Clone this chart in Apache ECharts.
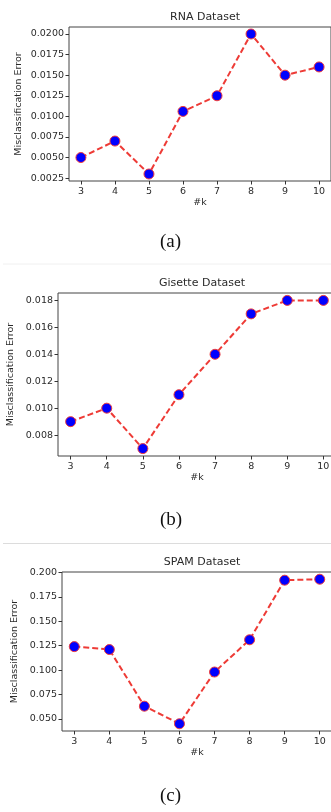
<!DOCTYPE html>
<html>
<head>
<meta charset="utf-8">
<script src="https://cdn.jsdelivr.net/npm/echarts@6/dist/echarts.min.js"></script>
<style>
  html, body { margin: 0; padding: 0; background: #fff; }
  #chart { width: 331px; height: 812px; }
</style>
</head>
<body>
<div id="chart"></div>
<script>
const kValues = [3, 4, 5, 6, 7, 8, 9, 10];

const rnaError = [0.0050, 0.0070, 0.0030, 0.0106, 0.0125, 0.0200, 0.0150, 0.0160];
const gisetteError = [0.0090, 0.0100, 0.0070, 0.0110, 0.0140, 0.0170, 0.0180, 0.0180];
const spamError = [0.124, 0.121, 0.063, 0.045, 0.098, 0.131, 0.192, 0.193];

const rnaTicks = [0.0025, 0.0050, 0.0075, 0.0100, 0.0125, 0.0150, 0.0175, 0.0200];
const gisetteTicks = [0.008, 0.010, 0.012, 0.014, 0.016, 0.018];
const spamTicks = [0.050, 0.075, 0.100, 0.125, 0.150, 0.175, 0.200];

const titles = ['RNA Dataset', 'Gisette Dataset', 'SPAM Dataset'];
const captions = ['(a)', '(b)', '(c)'];

const font = 'DejaVu Sans';
const textColor = '#2a2a2a';

// matplotlib-like 5% margins around data
function padRange(vals) {
  const lo = Math.min(...vals), hi = Math.max(...vals);
  const m = (hi - lo) * 0.05;
  return [lo - m, hi + m];
}

const grids = [
  { left: 69, top: 27, width: 262, height: 154 },
  { left: 58, top: 293, width: 278, height: 163 },
  { left: 62, top: 572, width: 270, height: 159 }
];

const panels = [
  { data: rnaError, ticks: rnaTicks, digits: 4, nameGap: 45 },
  { data: gisetteError, ticks: gisetteTicks, digits: 3, nameGap: 42 },
  { data: spamError, ticks: spamTicks, digits: 3, nameGap: 42 }
];

const xAxes = [], yAxes = [], series = [];
panels.forEach((p, i) => {
  const r = padRange(p.data);
  xAxes.push({
    type: 'value', gridIndex: i, min: 2.65, max: 10.35,
    name: '#k', nameLocation: 'middle', nameGap: 17,
    nameTextStyle: { fontFamily: font, fontSize: 9.5, color: textColor },
    axisLine: { show: false },
    axisTick: { show: true, length: 3.5, customValues: kValues, lineStyle: { color: '#333' } },
    axisLabel: { customValues: kValues, fontFamily: font, fontSize: 9.5, color: textColor, margin: 6 },
    splitLine: { show: false }
  });
  yAxes.push({
    type: 'value', gridIndex: i, min: r[0], max: r[1],
    name: 'Misclassification Error', nameLocation: 'middle', nameGap: p.nameGap,
    nameMoveOverlap: false,
    nameTextStyle: { fontFamily: font, fontSize: 9.5, color: textColor },
    axisLine: { show: false },
    axisTick: { show: true, length: 3.5, customValues: p.ticks, lineStyle: { color: '#333' } },
    axisLabel: {
      customValues: p.ticks, fontFamily: font, fontSize: 9.5, color: textColor, margin: 5,
      formatter: v => v.toFixed(p.digits)
    },
    splitLine: { show: false }
  });
  series.push({
    type: 'line', xAxisIndex: i, yAxisIndex: i,
    data: kValues.map((k, j) => [k, p.data[j]]),
    symbol: 'circle', symbolSize: 10,
    itemStyle: { color: '#0000ff', borderColor: '#f03c3c', borderWidth: 1 },
    lineStyle: { color: '#ee3b36', width: 2, type: [6, 3] },
    emphasis: { disabled: true },
    animation: false
  });
});

const chart = echarts.init(document.getElementById('chart'));
chart.setOption({
  backgroundColor: '#fff',
  animation: false,
  grid: grids.map(g => Object.assign({
    show: true, borderColor: '#444', borderWidth: 1, backgroundColor: 'transparent',
    containLabel: false, outerBoundsMode: 'none'
  }, g)),
  title: grids.map((g, i) => ({
    text: titles[i],
    left: Math.min(g.left + g.width / 2, 200),
    top: g.top - 20,
    textAlign: 'center',
    textStyle: { fontFamily: font, fontSize: 11, fontWeight: 'normal', color: textColor }
  })),
  xAxis: xAxes,
  yAxis: yAxes,
  series: series,
  graphic: [
    { type: 'text', left: 160, top: 233, style: { text: captions[0], font: '19px "Liberation Serif"', fill: '#111' } },
    { type: 'text', left: 160, top: 511, style: { text: captions[1], font: '19px "Liberation Serif"', fill: '#111' } },
    { type: 'text', left: 160, top: 787, style: { text: captions[2], font: '19px "Liberation Serif"', fill: '#111' } },
    { type: 'line', shape: { x1: 3, y1: 264, x2: 331, y2: 264 }, style: { stroke: '#f0f0f0', lineWidth: 1 } },
    { type: 'line', shape: { x1: 3, y1: 543.5, x2: 331, y2: 543.5 }, style: { stroke: '#dcdcdc', lineWidth: 1 } }
  ]
});
</script>
</body>
</html>
